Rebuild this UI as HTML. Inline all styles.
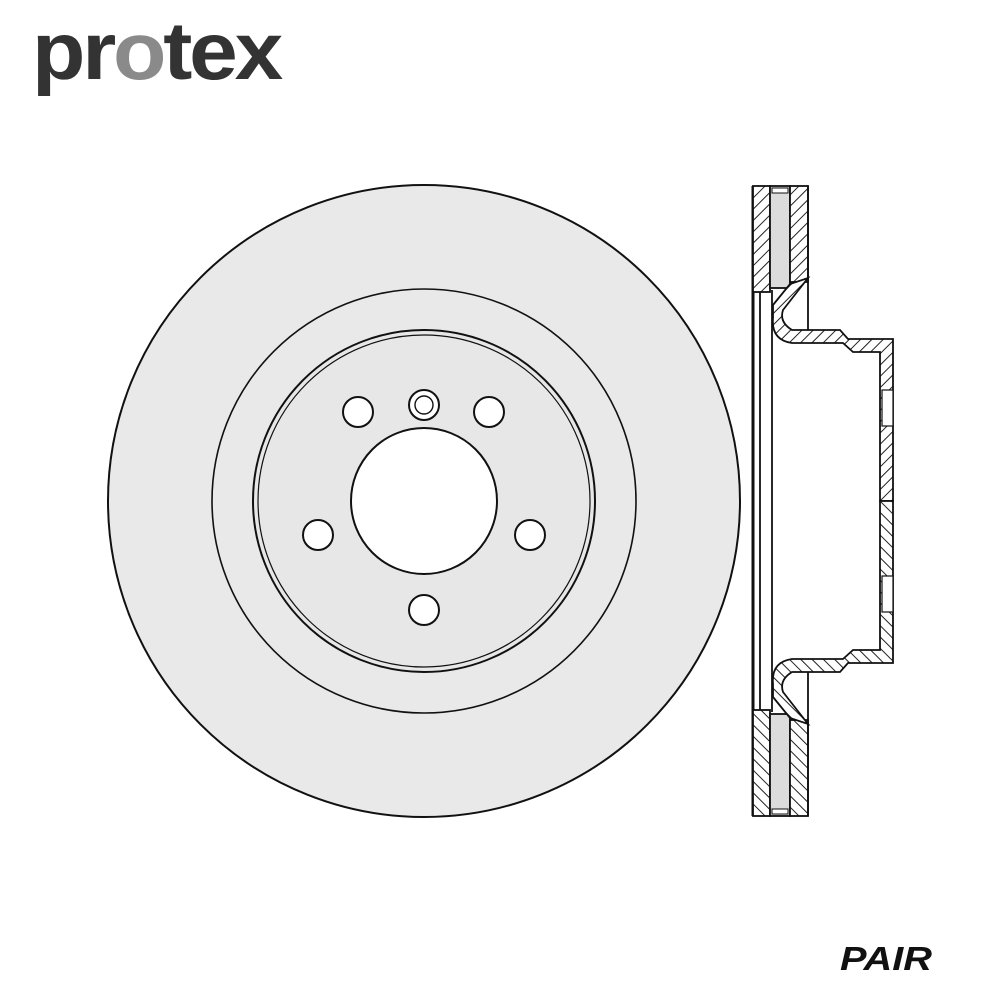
<!DOCTYPE html>
<html><head><style>
html,body{margin:0;padding:0;background:#fff;width:1000px;height:1000px;overflow:hidden}
</style></head><body>
<svg width="1000" height="1000" viewBox="0 0 1000 1000" xmlns="http://www.w3.org/2000/svg">
<defs>
<pattern id="h" width="8" height="8" patternUnits="userSpaceOnUse" patternTransform="rotate(45)">
<rect width="8" height="8" fill="#fff"/><line x1="0" y1="0" x2="0" y2="8" stroke="#222" stroke-width="2"/>
</pattern>
</defs>
<text x="32" y="79" font-family="Liberation Sans, sans-serif" font-weight="bold" font-size="82" fill="#333" textLength="248" lengthAdjust="spacingAndGlyphs" letter-spacing="-3">pr<tspan fill="#8a8a8a">o</tspan>tex</text>
<g stroke="#111" stroke-width="2">
<circle cx="424" cy="501" r="316" fill="#e9e9e9"/>
<circle cx="424" cy="501" r="212" fill="#e9e9e9" stroke-width="1.6"/>
<circle cx="424" cy="501" r="171" fill="#e7e7e7" stroke-width="2"/>
<circle cx="424" cy="501" r="166" fill="none" stroke-width="1.2"/>
<circle cx="424" cy="501" r="73" fill="#fff"/>
<circle cx="358" cy="412" r="15" fill="#fff"/>
<circle cx="489" cy="412" r="15" fill="#fff"/>
<circle cx="318" cy="535" r="15" fill="#fff"/>
<circle cx="530" cy="535" r="15" fill="#fff"/>
<circle cx="424" cy="610" r="15" fill="#fff"/>
<circle cx="424" cy="405" r="15" fill="#fff"/>
<circle cx="424" cy="405" r="9" fill="#fff" stroke-width="1.4"/>
</g>
<g stroke="#111" stroke-width="1.8">
<line x1="753" y1="186" x2="753" y2="816" stroke-width="3"/>
<line x1="760" y1="290" x2="760" y2="712"/>
<line x1="772" y1="290" x2="772" y2="712"/>
<g id="top">
<rect x="753" y="186" width="17" height="106" fill="url(#h)"/>
<rect x="770" y="186" width="20" height="102" fill="#dcdcdc"/>
<rect x="772" y="188" width="16" height="5" fill="#fff" stroke-width="1"/>
<rect x="790" y="186" width="18" height="96" fill="url(#h)"/>
<line x1="808" y1="186" x2="808" y2="330"/>
<path d="M808,278 L783,310 Q779,322 792,330 L840,330 L848,339 L893,339 L893,501 L880,501 L880,352 L853,352 L843,343 L792,343 Q771,340 773,318 L773,305 L790,284 Z" fill="url(#h)"/>
<rect x="882" y="390" width="11" height="36" fill="#fff" stroke-width="1.2"/>
</g>
<use href="#top" transform="translate(0,1002) scale(1,-1)"/>
</g>
<text x="840" y="970" font-family="Liberation Sans, sans-serif" font-weight="bold" font-style="italic" font-size="33" fill="#111" textLength="92" lengthAdjust="spacingAndGlyphs">PAIR</text>
</svg>
</body></html>
